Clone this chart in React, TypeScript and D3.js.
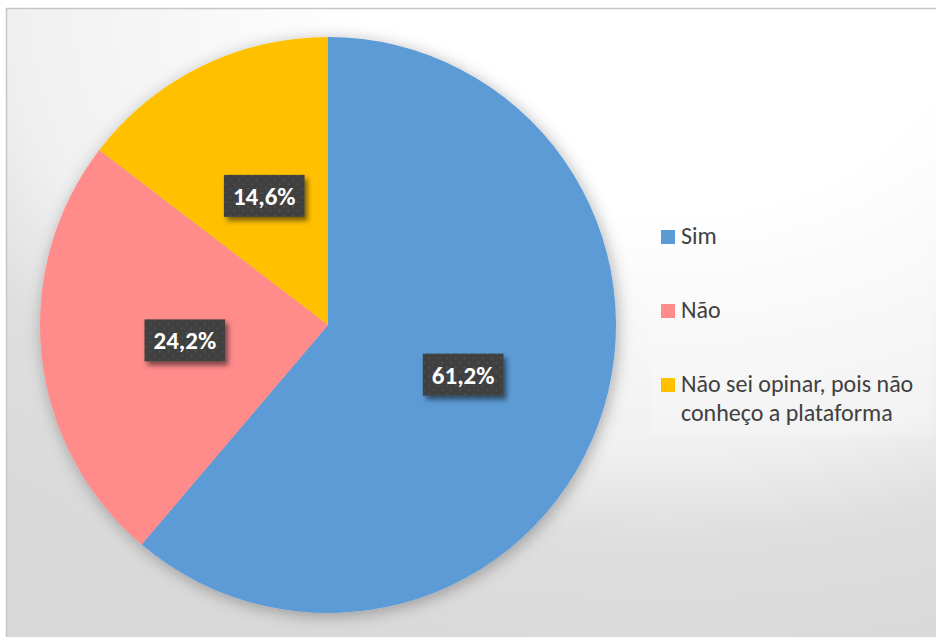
import React, { useEffect, useRef } from "react";
import * as d3 from "d3";

const categories = ["Sim", "Não", "Não sei opinar, pois não conheço a plataforma"];
const values = [61.2, 24.2, 14.6];
const valueLabels = ["61,2%", "24,2%", "14,6%"];
const legendLines = [["Sim"], ["Não"], ["Não sei opinar, pois não", "conheço a plataforma"]];
const colors = ["#5B9BD5", "#FF8B8B", "#FFC000"];

const W = 936;
const H = 637;
const FONT = "Carlito, Calibri, Lato, sans-serif";

export default function App() {
  const ref = useRef<SVGSVGElement | null>(null);

  useEffect(() => {
    const svg = d3.select(ref.current);
    svg.selectAll("*").remove();

    const defs = svg.append("defs");

    // chart area background: soft radial gradient, white near the top
    const grad = defs
      .append("radialGradient")
      .attr("id", "bg")
      .attr("gradientUnits", "userSpaceOnUse")
      .attr("cx", 660)
      .attr("cy", 20)
      .attr("r", 650)
      .attr("gradientTransform", "translate(660,20) scale(1.5,1) translate(-660,-20)");
    [
      [0, "#ffffff"],
      [0.3, "#ffffff"],
      [0.66, "#f0f0f0"],
      [0.8, "#dedede"],
      [1, "#d9d9d9"]
    ].forEach(([o, c]) => grad.append("stop").attr("offset", o as number).attr("stop-color", c as string));

    const pieShadow = defs.append("filter").attr("id", "pieShadow").attr("x", "-20%").attr("y", "-20%").attr("width", "140%").attr("height", "140%");
    pieShadow
      .append("feDropShadow")
      .attr("dx", 2)
      .attr("dy", 3)
      .attr("stdDeviation", 8)
      .attr("flood-color", "#000")
      .attr("flood-opacity", 0.3);

    const boxShadow = defs.append("filter").attr("id", "boxShadow").attr("x", "-30%").attr("y", "-30%").attr("width", "160%").attr("height", "160%");
    boxShadow
      .append("feDropShadow")
      .attr("dx", 3)
      .attr("dy", 4)
      .attr("stdDeviation", 2.5)
      .attr("flood-color", "#000")
      .attr("flood-opacity", 0.5);

    const pat = defs
      .append("pattern")
      .attr("id", "dots")
      .attr("patternUnits", "userSpaceOnUse")
      .attr("width", 9)
      .attr("height", 9);
    pat.append("rect").attr("width", 9).attr("height", 9).attr("fill", "#404040");
    pat.append("rect").attr("x", 1).attr("y", 1).attr("width", 1.5).attr("height", 1.5).attr("fill", "#585858");
    pat.append("rect").attr("x", 5.5).attr("y", 5.5).attr("width", 1.5).attr("height", 1.5).attr("fill", "#585858");

    svg.append("rect").attr("width", W).attr("height", H).attr("fill", "#fff");
    svg
      .append("rect")
      .attr("x", 6.5)
      .attr("y", 8.5)
      .attr("width", W + 20)
      .attr("height", H + 20)
      .attr("fill", "url(#bg)")
      .attr("stroke", "#c6c6c6")
      .attr("stroke-width", 1.5);

    const cx = 328;
    const cy = 325;
    const radius = 288;

    const pie = d3
      .pie<number>()
      .sort(null)
      .value(d => d);
    const arcs = pie(values);
    const arc = d3.arc<d3.PieArcDatum<number>>().innerRadius(0).outerRadius(radius);

    const g = svg.append("g").attr("transform", `translate(${cx},${cy})`);

    g.append("g")
      .attr("filter", "url(#pieShadow)")
      .selectAll("path")
      .data(arcs)
      .join("path")
      .attr("fill", (d, i) => colors[i])
      .attr("d", arc);

    // data labels in dark boxes
    const lab = g
      .selectAll("g.lab")
      .data(arcs)
      .join("g")
      .attr("class", "lab")
      .attr("transform", d => `translate(${arc.centroid(d)})`);

    const rects = lab.append("rect").attr("fill", "url(#dots)").attr("filter", "url(#boxShadow)");
    const texts = lab
      .append("text")
      .attr("text-anchor", "middle")
      .attr("dy", "0.36em")
      .attr("fill", "#fff")
      .attr("font-family", FONT)
      .attr("font-weight", "bold")
      .attr("font-size", 25)
      .text((d, i) => valueLabels[i]);

    texts.each(function (d, i) {
      const w = (this as SVGTextElement).getComputedTextLength();
      const bw = w + 18;
      const bh = 42;
      d3.select(rects.nodes()[i])
        .attr("x", -bw / 2)
        .attr("y", -bh / 2)
        .attr("width", bw)
        .attr("height", bh);
    });

    // legend
    const legend = svg.append("g");
    legend
      .append("rect")
      .attr("x", 650)
      .attr("y", 214)
      .attr("width", 281)
      .attr("height", 223)
      .attr("fill", "#fff")
      .attr("fill-opacity", 0.2);

    const itemY = [230, 304, 378];
    const items = legend
      .selectAll("g.item")
      .data(categories)
      .join("g")
      .attr("class", "item")
      .attr("transform", (d, i) => `translate(661,${itemY[i]})`);

    items
      .append("rect")
      .attr("width", 14)
      .attr("height", 14)
      .attr("fill", (d, i) => colors[i]);

    items
      .append("text")
      .attr("font-family", FONT)
      .attr("font-size", 24)
      .attr("fill", "#404040")
      .selectAll("tspan")
      .data((d, i) => legendLines[i])
      .join("tspan")
      .attr("x", 20)
      .attr("y", (d, j) => 14 + j * 29)
      .text(d => d);
  }, []);

  return (
    <div style={{ position: "absolute", left: 0, top: 0 }}>
      <svg ref={ref} width={W} height={H} style={{ display: "block" }} />
    </div>
  );
}
